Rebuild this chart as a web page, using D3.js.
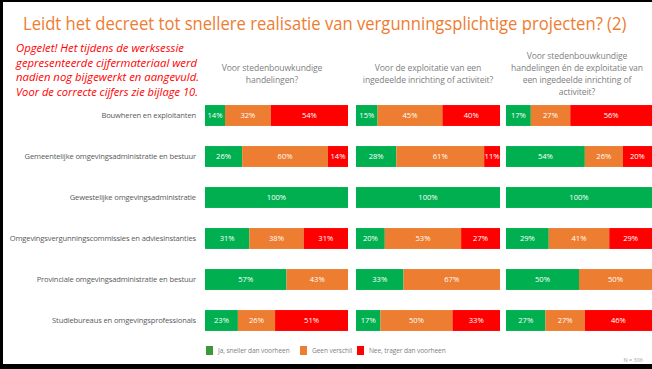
<!DOCTYPE html>
<html>
<head>
<meta charset="utf-8">
<script src="https://cdn.jsdelivr.net/npm/d3@7"></script>
<style>
  body { margin: 0; background: #fff; }
  svg { display: block; font-family: "Open Sans", sans-serif; }
</style>
</head>
<body>
<div id="chart_area"></div>
<script>
// categories (rows) and answer keys
var categories = [
  "Bouwheren en exploitanten",
  "Gemeentelijke omgevingsadministratie en bestuur",
  "Gewestelijke omgevingsadministratie",
  "Omgevingsvergunningscommissies en adviesinstanties",
  "Provinciale omgevingsadministratie en bestuur",
  "Studiebureaus en omgevingsprofessionals"
];
var answers = ["Ja, sneller dan voorheen", "Geen verschil", "Nee, trager dan voorheen"];
var colors = ["#00B050", "#ED7D31", "#FF0000"];

// one array per panel: [ja, geen, nee] per category
var stedenbouw = [[14, 32, 54], [26, 60, 14], [100, 0, 0], [31, 38, 31], [57, 43, 0], [23, 26, 51]];
var exploitatie = [[15, 45, 40], [28, 61, 11], [100, 0, 0], [20, 53, 27], [33, 67, 0], [17, 50, 33]];
var beide = [[17, 27, 56], [54, 26, 20], [100, 0, 0], [29, 41, 29], [50, 50, 0], [27, 27, 46]];

var panelTitles = [
  ["Voor stedenbouwkundige", "handelingen?"],
  ["Voor de exploitatie van een", "ingedeelde inrichting of activiteit?"],
  ["Voor stedenbouwkundige", "handelingen én de exploitatie van", "een ingedeelde inrichting of", "activiteit?"]
];
var panels = [stedenbouw, exploitatie, beide];

var frame_width = 652, frame_height = 369;
var svg = d3.select("#chart_area").append("svg")
  .attr("width", frame_width)
  .attr("height", frame_height);

// slide frame
svg.append("rect").attr("x", 0).attr("y", 0).attr("width", frame_width).attr("height", 2).attr("fill", "#000");
svg.append("rect").attr("x", 0).attr("y", 0).attr("width", 3).attr("height", frame_height).attr("fill", "#000");
svg.append("rect").attr("x", 0).attr("y", 364).attr("width", frame_width).attr("height", 5).attr("fill", "#000");

// title: shrink the font until it fits 604px, then stretch vertically back
var title = svg.append("text")
  .attr("x", 0).attr("y", 0)
  .attr("fill", "#ED7D31")
  .style("font-size", "18px")
  .text("Leidt het decreet tot snellere realisatie van vergunningsplichtige projecten? (2)");
var titleFs = Math.min(18, 18 * 604 / title.node().getComputedTextLength());
title.style("font-size", titleFs + "px")
  .attr("transform", "translate(23,30) scale(1," + (18 / titleFs) + ")");

// red note
var note = ["Opgelet! Het tijdens de werksessie", "gepresenteerde cijfermateriaal werd",
  "nadien nog bijgewerkt en aangevuld.", "Voor de correcte cijfers zie bijlage 10."];
svg.append("g").selectAll("text").data(note).enter().append("text")
  .attr("x", 16)
  .attr("y", function(d, i) { return 52 + i * 14.7; })
  .attr("fill", "#FF0000")
  .style("font-size", "10.5px")
  .style("font-style", "italic")
  .attr("textLength", function(d, i) { return [168, 181, 183, 182][i]; })
  .attr("lengthAdjust", "spacingAndGlyphs")
  .text(function(d) { return d; });

// layout
var yScale = d3.scaleBand().domain(categories).range([95, 341]).paddingInner(0.49).paddingOuter(0.245);
var panelX = [205, 356, 506];
var panelW = [143, 144, 146];
var headerX = [272, 428, 577];

// category labels
svg.append("g").selectAll("text").data(categories).enter().append("text")
  .attr("x", 196)
  .attr("y", function(d) { return yScale(d) + yScale.bandwidth() / 2; })
  .attr("dy", "0.35em")
  .attr("text-anchor", "end")
  .attr("fill", "#595959")
  .style("font-size", "7.6px")
  .style("letter-spacing", "-0.15px")
  .text(function(d) { return d; });

var stack = d3.stack().keys([0, 1, 2]).offset(d3.stackOffsetExpand);

panels.forEach(function(values, p) {
  var xScale = d3.scaleLinear().domain([0, 1]).range([panelX[p], panelX[p] + panelW[p]]);
  var rows = values.map(function(v, i) { return {cat: categories[i], 0: v[0], 1: v[1], 2: v[2]}; });
  var series = stack(rows);

  // panel heading, centred vertically around y = 74
  var lines = panelTitles[p];
  svg.append("g").selectAll("text").data(lines).enter().append("text")
    .attr("x", headerX[p])
    .attr("y", function(d, i) { return 74 + (i - (lines.length - 1) / 2) * 11.7; })
    .attr("dy", "0.35em")
    .attr("text-anchor", "middle")
    .attr("fill", "#808080")
    .style("font-size", "8.6px")
    .style("letter-spacing", "-0.1px")
    .text(function(d) { return d; });

  var g = svg.append("g");
  series.forEach(function(s) {
    var segs = g.append("g").selectAll("g").data(s).enter().append("g");
    segs.append("rect")
      .attr("x", function(d) { return xScale(d[0]); })
      .attr("y", function(d) { return yScale(d.data.cat); })
      .attr("width", function(d) { return xScale(d[1]) - xScale(d[0]); })
      .attr("height", yScale.bandwidth())
      .attr("fill", colors[s.key]);
    segs.filter(function(d) { return d.data[s.key] > 0; }).append("text")
      .attr("x", function(d) { return (xScale(d[0]) + xScale(d[1])) / 2; })
      .attr("y", function(d) { return yScale(d.data.cat) + yScale.bandwidth() / 2; })
      .attr("dy", "0.35em")
      .attr("text-anchor", "middle")
      .attr("fill", "#fff")
      .style("font-size", "7.6px")
      .text(function(d) { return d.data[s.key] + "%"; });
  });
});

// legend
var legendX = [206, 300, 357];
var legend = svg.append("g").selectAll("g").data(answers).enter().append("g")
  .attr("transform", function(d, i) { return "translate(" + legendX[i] + ",346)"; });
legend.append("rect").attr("width", 7).attr("height", 9)
  .attr("fill", function(d, i) { return ["#3A9A3A", "#ED7D31", "#FF0000"][i]; });
legend.append("text")
  .attr("x", 12).attr("y", 4.5).attr("dy", "0.35em")
  .attr("fill", "#7F7F7F")
  .style("font-size", "6.6px")
  .style("letter-spacing", "-0.1px")
  .text(function(d) { return d; });

svg.append("text")
  .attr("x", 643).attr("y", 362)
  .attr("text-anchor", "end")
  .attr("fill", "#A6A6A6")
  .style("font-size", "5.5px")
  .text("N = 306");
</script>
</body>
</html>
